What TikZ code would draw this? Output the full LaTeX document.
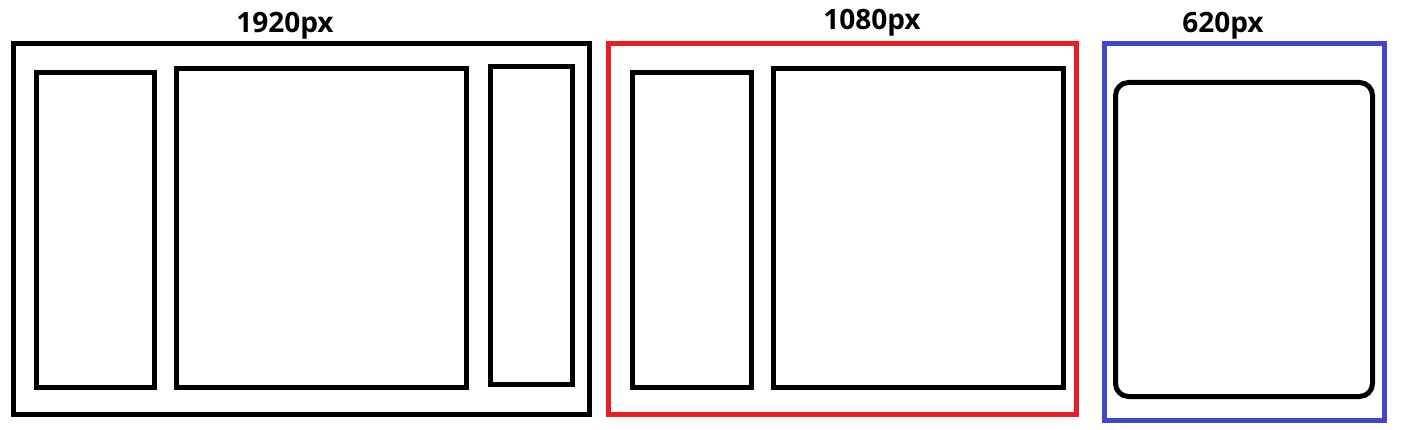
\documentclass[tikz,border=0pt]{standalone}
\usepackage{fontspec}
\setmainfont{Open Sans}
\usepackage{tikz}
\usetikzlibrary{positioning}
\definecolor{paintred}{HTML}{ED1C24}
\definecolor{paintblue}{HTML}{3F48CC}

\begin{document}
\begin{tikzpicture}[
    x=1pt, y=-1pt,
    panel/.style={draw, line width=5pt, inner sep=0pt, outer sep=0pt},
    label/.style={anchor=base, inner sep=0pt, font=\bfseries\fontsize{28}{30}\selectfont}
]
\useasboundingbox (0,0) rectangle (1408,430);
% 1920px layout
\node[panel, minimum width=576pt, minimum height=370.5pt] (wide) at (301,228.75) {};
\node[panel, minimum width=118pt, minimum height=314.5pt] (wideleft) at (95,229.75) {};
\node[panel, minimum width=289.5pt, minimum height=318.5pt] (widemain) at (321.25,227.75) {};
\node[panel, minimum width=82.5pt, minimum height=317.5pt] (wideright) at (531.25,225.25) {};
\node[label] (widelbl) at (285,33) {1920px};
% 1080px layout
\node[panel, draw=paintred, minimum width=467.5pt, minimum height=370.5pt] (mid) at (842.25,228.75) {};
\node[panel, minimum width=119pt, minimum height=314.5pt] (midleft) at (692,229.75) {};
\node[panel, minimum width=290pt, minimum height=318.5pt] (midmain) at (918.5,227.75) {};
\node[label] (midlbl) at (872,30) {1080px};
% 620px layout
\node[panel, draw=paintblue, minimum width=280pt, minimum height=376.5pt] (narrow) at (1244,231.75) {};
\node[panel, rounded corners=13pt, minimum width=257pt, minimum height=314pt] (narrowcard) at (1244,239.5) {};
\node[label] (narrowlbl) at (1223,33) {620px};
\end{tikzpicture}
\end{document}
